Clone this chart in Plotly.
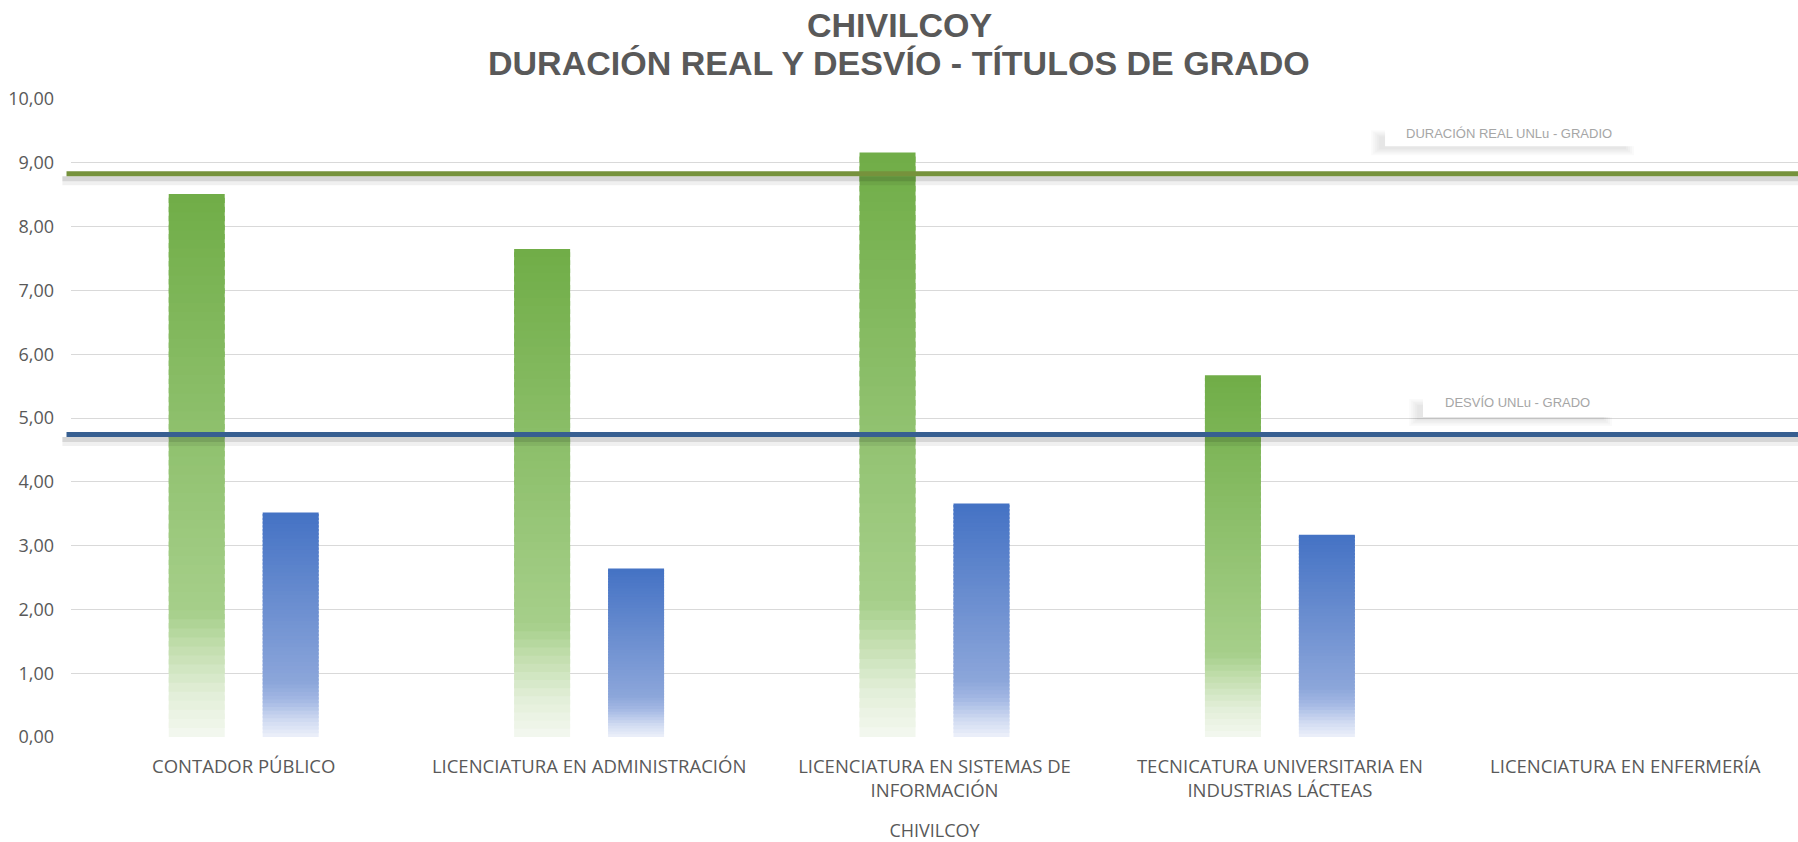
import plotly.graph_objects as go

# ---- data -------------------------------------------------------------
categorias = [
    "CONTADOR PÚBLICO",
    "LICENCIATURA EN ADMINISTRACIÓN",
    "LICENCIATURA EN SISTEMAS DE<br>INFORMACIÓN",
    "TECNICATURA UNIVERSITARIA EN<br>INDUSTRIAS LÁCTEAS",
    "LICENCIATURA EN ENFERMERÍA",
]
duracion_real = [8.51, 7.65, 9.16, 5.67, None]
desvio = [3.52, 2.64, 3.66, 3.17, None]

duracion_unlu = 8.83   # DURACIÓN REAL UNLu - GRADO
desvio_unlu = 4.74     # DESVÍO UNLu - GRADO

y_ticks = [0, 1, 2, 3, 4, 5, 6, 7, 8, 9, 10]

# ---- styling ------------------------------------------------------------
W, H = 1798, 842
M_L, M_R, M_T, M_B = 71, 0, 99, 105
TEXT = "#595959"
FONT = "Open Sans, Noto Sans, sans-serif"

# vertical gradients (fraction of bar height -> rgb)
GRAD_VERDE = [(0.0, (244, 248, 240)), (0.08, (226, 238, 216)), (0.16, (196, 223, 176)),
              (0.23, (166, 207, 138)), (1.0, (112, 173, 71))]
GRAD_AZUL = [(0.0, (237, 241, 250)), (0.08, (205, 216, 240)), (0.16, (165, 185, 228)),
             (0.24, (140, 166, 218)), (1.0, (68, 114, 196))]
N_PASOS = 60
SOLAPE = 0.6  # each strip overlaps the next one to hide seams


def color_en(grad, t):
    for (t0, c0), (t1, c1) in zip(grad[:-1], grad[1:]):
        if t <= t1:
            f = (t - t0) / (t1 - t0)
            r, g, b = (round(a + (b_ - a) * f) for a, b_ in zip(c0, c1))
            return f"rgb({r},{g},{b})"
    r, g, b = grad[-1][1]
    return f"rgb({r},{g},{b})"


fig = go.Figure()


def barras_degradadas(valores, grad, grupo, nombre):
    # each bar is built from thin horizontal strips, bottom to top,
    # whose colours follow a vertical gradient
    for k in range(1, N_PASOS + 1):
        paso = 1 / N_PASOS
        base = [None if v is None else v * (k - 1) * paso for v in valores]
        if k < N_PASOS:
            alto = [None if v is None else v * paso * (1 + SOLAPE) for v in valores]
        else:
            alto = [None if v is None else v - v * (k - 1) * paso for v in valores]
        fig.add_trace(go.Bar(
            x=categorias,
            y=alto,
            base=base,
            offsetgroup=grupo,
            marker=dict(color=color_en(grad, (k - 0.5) * paso), line=dict(width=0)),
            name=nombre,
            showlegend=False,
            hoverinfo="skip",
        ))


barras_degradadas(duracion_real, GRAD_VERDE, "dur", "DURACIÓN REAL")
barras_degradadas(desvio, GRAD_AZUL, "des", "DESVÍO")

shapes = []


def linea_referencia(valor, color):
    # soft shadow under the line
    shapes.append(dict(type="rect", xref="paper", x0=-0.005, x1=1.0,
                       yref="y", ysizemode="pixel", yanchor=valor, y0=-2.5, y1=-7.5,
                       fillcolor="rgba(0,0,0,0.16)", line=dict(width=0)))
    shapes.append(dict(type="rect", xref="paper", x0=-0.005, x1=1.0,
                       yref="y", ysizemode="pixel", yanchor=valor, y0=-7.5, y1=-11.5,
                       fillcolor="rgba(0,0,0,0.06)", line=dict(width=0)))
    shapes.append(dict(type="rect", xref="paper", x0=-0.0026, x1=1.0,
                       yref="y", ysizemode="pixel", yanchor=valor, y0=-2.5, y1=2.5,
                       fillcolor=color, line=dict(width=0)))


linea_referencia(duracion_unlu, "rgb(118,146,60)")
linea_referencia(desvio_unlu, "rgb(55,95,145)")


def etiqueta(texto, valor, xc, dy, x_izq, x_der, alto):
    # label box with a soft, blurred drop shadow (down and to the left)
    y_bot, y_top = dy - alto / 2, dy + alto / 2
    for i in range(5):
        shapes.append(dict(type="rect", xref="paper", xsizemode="pixel", xanchor=xc,
                           x0=x_izq - 14 + i * 2, x1=x_der - 6 - i * 2,
                           yref="y", ysizemode="pixel", yanchor=valor,
                           y0=y_bot - 9 + i * 1.5, y1=y_top - 10 - i * 1.5,
                           fillcolor="rgba(0,0,0,0.018)", line=dict(width=0)))
    shapes.append(dict(type="rect", xref="paper", xsizemode="pixel", xanchor=xc,
                       x0=x_izq, x1=x_der,
                       yref="y", ysizemode="pixel", yanchor=valor,
                       y0=y_bot, y1=y_top,
                       fillcolor="white", line=dict(width=0)))
    return dict(text=texto, xref="paper", x=xc, yref="y", y=valor, yshift=dy,
                showarrow=False, xanchor="center", yanchor="middle",
                font=dict(family="Liberation Sans, Arial", size=13, color="#A6A6A6"))


anotaciones = [
    etiqueta("DURACIÓN REAL UNLu - GRADIO", duracion_unlu, 0.8327, 40.5, -124, 131, 26),
    etiqueta("DESVÍO UNLu - GRADO", desvio_unlu, 0.8373, 31.6, -94, 101, 28),
]

titulo_font = dict(family="Liberation Sans, Arial", size=34, color=TEXT)
alto_plot = H - M_T - M_B
for texto, py in [("<b>CHIVILCOY</b>", 25), ("<b>DURACIÓN REAL Y DESVÍO - TÍTULOS DE GRADO</b>", 63)]:
    anotaciones.append(dict(text=texto, xref="paper", x=(W / 2 - M_L) / (W - M_L - M_R),
                            yref="paper", y=(H - M_B - py) / alto_plot,
                            showarrow=False, xanchor="center", yanchor="middle",
                            font=titulo_font))

fig.update_layout(
    width=W, height=H,
    margin=dict(l=M_L, r=M_R, t=M_T, b=M_B, autoexpand=False),
    paper_bgcolor="white", plot_bgcolor="white",
    barmode="group", bargap=0.456, bargroupgap=0.404,
    separators=",.",
    shapes=shapes,
    annotations=anotaciones,
    showlegend=False,
    font=dict(family=FONT, color=TEXT),
)

fig.update_yaxes(
    range=[0, 10], tickvals=y_ticks, tickformat=".2f",
    showgrid=True, gridcolor="#D9D9D9", gridwidth=1.3,
    zeroline=False, showline=False, ticks="",
    ticklabelstandoff=16,
    tickfont=dict(family=FONT, size=18, color=TEXT),
    automargin=False,
)
fig.update_xaxes(
    type="category", categoryorder="array", categoryarray=categorias,
    showgrid=False, zeroline=False, showline=False, ticks="",
    ticklabelstandoff=16,
    tickfont=dict(family=FONT, size=18.5, color=TEXT),
    title=dict(text="CHIVILCOY", standoff=28,
               font=dict(family=FONT, size=18, color=TEXT)),
    automargin=False,
)

fig.write_html("out.html")
